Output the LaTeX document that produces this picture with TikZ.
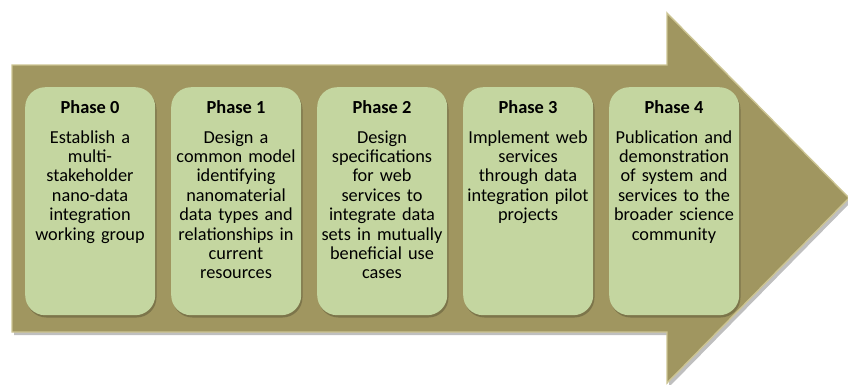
\documentclass[tikz,border=0pt]{standalone}
\usepackage{fontspec}
\setmainfont{Carlito}
\usetikzlibrary{positioning}
\definecolor{arrowolive}{RGB}{160,150,96}
\definecolor{arrowedge}{RGB}{204,196,146}
\definecolor{phasegreen}{RGB}{196,214,160}

\begin{document}
\begin{tikzpicture}[x=1pt,y=-1pt,
  phasebox/.style={draw=none,fill=phasegreen,rounded corners=20pt,minimum width=130pt,minimum height=228pt,anchor=north west,inner sep=0pt},
  phasetitle/.style={font=\fontsize{18.4}{19}\selectfont\bfseries,inner sep=0pt},
  phasetext/.style={font=\fontsize{18.3}{19.4}\selectfont,align=center,text width=132pt,inner sep=0pt}]
\useasboundingbox (0,0) rectangle (848,384);
% big arrow
\fill[black,opacity=0.25] (14,68) -- (669,68) -- (669,16) -- (852,201) -- (669,387) -- (669,335) -- (14,335) -- cycle;
\draw[fill=arrowolive,draw=arrowedge,line width=1.4pt] (12,65) -- (667,65) -- (667,13) -- (849,198) -- (667,383) -- (667,332) -- (12,332) -- cycle;

% phase boxes
\foreach \i/\x in {0/25,1/171,2/317,3/463,4/609}{
  \fill[black,opacity=0.22,rounded corners=20pt] (\x+1.5,89.5) rectangle (\x+131.5,317.5);
  \node[phasebox] (p\i) at (\x,87) {};
  \node[phasetitle] (t\i) at (\x+65,107) {Phase \i};
}

\node[phasetext,below=16.5pt of t0] (d0) {Establish a\\multi-\\stakeholder\\nano-data\\integration\\working group};
\node[phasetext,below=16.5pt of t1] (d1) {Design a\\common model\\identifying\\nanomaterial\\data types and\\relationships in\\current\\resources};
\node[phasetext,below=16.5pt of t2] (d2) {Design\\specifications\\for web\\services to\\integrate data\\sets in mutually\\beneficial use\\cases};
\node[phasetext,below=16.5pt of t3] (d3) {Implement web\\services\\through data\\integration pilot\\projects};
\node[phasetext,below=16.5pt of t4] (d4) {Publication and\\demonstration\\of system and\\services to the\\broader science\\community};

\end{tikzpicture}
\end{document}
